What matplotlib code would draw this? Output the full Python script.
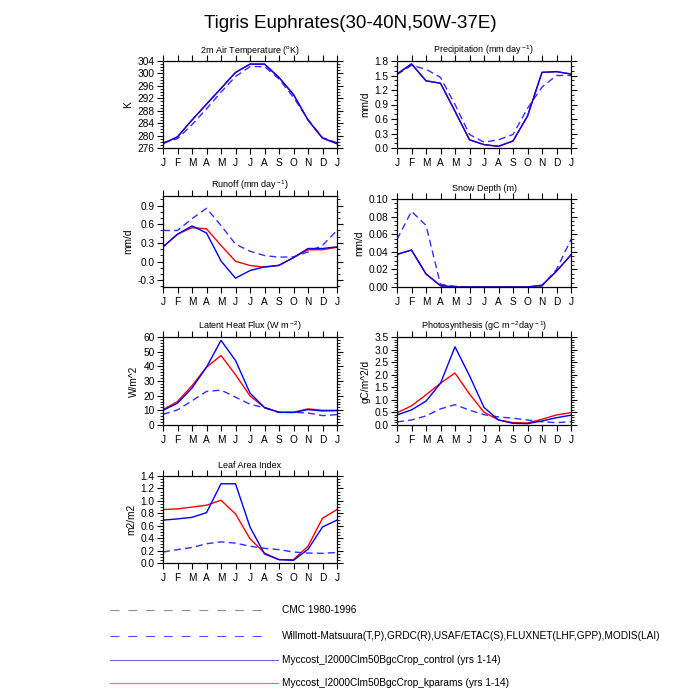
import matplotlib
matplotlib.use("Agg")
import matplotlib.pyplot as plt
from matplotlib.ticker import AutoMinorLocator
import numpy as np

plt.rcParams['font.family'] = ['Liberation Sans', 'DejaVu Sans']
plt.rcParams['mathtext.fontset'] = 'custom'
plt.rcParams['mathtext.rm'] = 'Liberation Sans'
plt.rcParams['mathtext.it'] = 'Liberation Sans'

months = ["J", "F", "M", "A", "M", "J", "J", "A", "S", "O", "N", "D", "J"]

# 2m air temperature (K)
tsa_ctl = [277.4, 279.6, 285.0, 290.1, 295.2, 300.3, 303.0, 303.0, 298.7, 293.2, 285.0, 279.2, 277.4]
tsa_kp = [277.4, 279.6, 285.0, 290.1, 295.2, 300.3, 303.0, 303.0, 298.7, 293.2, 285.0, 279.2, 277.4]
tsa_obs = [277.7, 279.0, 283.5, 288.6, 294.0, 299.0, 302.2, 302.2, 298.2, 292.3, 285.2, 279.3, 277.7]

# precipitation (mm/d)
pr_ctl = [1.53, 1.74, 1.39, 1.34, 0.76, 0.17, 0.07, 0.035, 0.145, 0.66, 1.565, 1.58, 1.53]
pr_kp = [1.53, 1.74, 1.39, 1.34, 0.76, 0.17, 0.07, 0.035, 0.145, 0.66, 1.565, 1.58, 1.53]
pr_obs = [1.52, 1.71, 1.63, 1.46, 0.90, 0.28, 0.12, 0.17, 0.28, 0.82, 1.26, 1.50, 1.50]

# runoff (mm/d)
ro_ctl = [0.236, 0.44, 0.573, 0.46, 0.01, -0.268, -0.145, -0.086, -0.06, 0.064, 0.21, 0.21, 0.236]
ro_kp = [0.236, 0.44, 0.546, 0.525, 0.26, 0.005, -0.064, -0.09, -0.064, 0.064, 0.19, 0.19, 0.23]
ro_obs = [0.50, 0.50, 0.69, 0.857, 0.58, 0.28, 0.166, 0.096, 0.07, 0.075, 0.155, 0.26, 0.50]

# snow depth (m)
sd_ctl = [0.037, 0.042, 0.0148, 0.0015, 0.0, 0.0, 0.0, 0.0, 0.0, 0.0, 0.002, 0.018, 0.0365]
sd_kp = [0.037, 0.042, 0.0148, 0.0015, 0.0, 0.0, 0.0, 0.0, 0.0, 0.0, 0.002, 0.018, 0.0365]
sd_obs = [0.054, 0.086, 0.070, 0.003, 0.0008, 0.0, 0.0, 0.0, 0.0, 0.0, 0.001, 0.020, 0.054]

# latent heat flux (W/m2)
lh_ctl = [10.0, 14.9, 25.2, 39.4, 57.7, 44.0, 21.8, 11.9, 8.7, 8.5, 10.5, 9.6, 9.8]
lh_kp = [10.5, 16.0, 26.8, 39.4, 47.4, 34.3, 19.9, 11.9, 8.7, 8.7, 11.0, 10.0, 10.0]
lh_obs = [7.3, 10.3, 16.5, 22.9, 23.8, 19.0, 14.2, 11.7, 8.5, 8.7, 8.2, 6.4, 7.1]

# photosynthesis (gC/m2/d)
gpp_ctl = [0.40, 0.60, 0.95, 1.66, 3.11, 1.96, 0.70, 0.20, 0.067, 0.053, 0.16, 0.29, 0.39]
gpp_kp = [0.49, 0.76, 1.20, 1.66, 2.07, 1.23, 0.51, 0.20, 0.093, 0.08, 0.23, 0.40, 0.49]
gpp_obs = [0.12, 0.20, 0.36, 0.64, 0.81, 0.59, 0.41, 0.32, 0.27, 0.20, 0.13, 0.093, 0.13]

# leaf area index (m2/m2)
lai_ctl = [0.69, 0.71, 0.735, 0.81, 1.275, 1.275, 0.58, 0.145, 0.054, 0.043, 0.22, 0.58, 0.69]
lai_kp = [0.86, 0.87, 0.90, 0.93, 1.01, 0.79, 0.39, 0.16, 0.054, 0.054, 0.27, 0.72, 0.86]
lai_obs = [0.177, 0.215, 0.25, 0.31, 0.34, 0.32, 0.27, 0.236, 0.215, 0.177, 0.16, 0.155, 0.17]

titles = [r"2m Air Temperature ($^{\rm o}$K)",
          r"Precipitation (mm day$^{\rm -1}$)",
          r"Runoff (mm day$^{\rm -1}$)",
          "Snow Depth (m)",
          r"Latent Heat Flux (W m$^{\rm -2}$)",
          r"Photosynthesis (gC m$^{\rm -2}$day$^{\rm -1}$)",
          "Leaf Area Index"]
ylabels = ["K", "mm/d", "mm/d", "mm/d", "W/m^2", "gC/m^2/d", "m2/m2"]
series = [(tsa_ctl, tsa_kp, tsa_obs), (pr_ctl, pr_kp, pr_obs), (ro_ctl, ro_kp, ro_obs),
          (sd_ctl, sd_kp, sd_obs), (lh_ctl, lh_kp, lh_obs), (gpp_ctl, gpp_kp, gpp_obs),
          (lai_ctl, lai_kp, lai_obs)]
ylims = [(276, 304), (0, 1.8), (-0.41, 1.055), (0, 0.10), (0, 60), (0, 3.5), (0, 1.4)]
ysteps = [4, 0.3, 0.3, 0.02, 10, 0.5, 0.2]
yminor = [4, 3, 3, 4, 5, 5, 4]
yfmt = ["{:.0f}", "{:.1f}", "{:.1f}", "{:.2f}", "{:.0f}", "{:.1f}", "{:.1f}"]

legend_labels = ["CMC 1980-1996",
                 "Willmott-Matsuura(T,P),GRDC(R),USAF/ETAC(S),FLUXNET(LHF,GPP),MODIS(LAI)",
                 "Myccost_I2000Clm50BgcCrop_control (yrs 1-14)",
                 "Myccost_I2000Clm50BgcCrop_kparams (yrs 1-14)"]

W = H = 700.0
fig = plt.figure(figsize=(7, 7), dpi=100)

# panel boxes in pixels (left, top, right, bottom)
boxes = [(163, 61, 337, 148), (397, 61, 571, 148),
         (163, 196, 337, 287), (397, 199, 571, 287),
         (163, 337, 337, 425), (397, 337, 571, 425),
         (163, 476, 337, 563)]

x = np.arange(len(months))
for i, (b, (ctl, kp, obs)) in enumerate(zip(boxes, series)):
    l, t, r, bt = b
    ax = fig.add_axes([l / W, 1 - bt / H, (r - l) / W, (bt - t) / H])
    ax.plot(x, obs, color="#3030ff", lw=1.0, ls=(0, (5, 3)))
    ax.plot(x, kp, color="red", lw=1.0)
    ax.plot(x, ctl, color="blue", lw=1.0)
    ax.set_xlim(0, 12)
    ax.set_ylim(*ylims[i])
    ax.set_xticks(x)
    ax.set_xticklabels(months)
    lo, hi = ylims[i]
    st = ysteps[i]
    start = np.ceil(lo / st - 1e-9) * st
    ticks = np.arange(start, hi + 1e-9, st)
    ax.set_yticks(ticks)
    ax.set_yticklabels([yfmt[i].format(v + 0.0) for v in ticks])
    ax.yaxis.set_minor_locator(AutoMinorLocator(yminor[i]))
    ax.tick_params(axis="both", which="major", direction="out", length=4.5, width=0.8,
                   labelsize=7.3, top=True, right=True, pad=1.5)
    ax.tick_params(axis="y", which="minor", direction="out", length=2.2, width=0.6,
                   right=True, left=True)
    ax.tick_params(axis="x", which="major", pad=2.5)
    for s in ax.spines.values():
        s.set_linewidth(0.9)
    ax.set_title(titles[i], fontsize=6.5, pad=5.5)
    ax.set_ylabel(ylabels[i], fontsize=7.3, labelpad=3)

fig.text(0.5, 1 - 23 / H, "Tigris Euphrates(30-40N,50W-37E)", ha="center", va="center",
         fontsize=13.5)

# legend
leg_y = [610, 636, 660, 683]
leg_styles = [dict(color="#909090", ls=(0, (8, 8)), lw=0.8),
              dict(color="#5050ff", ls=(0, (8, 8)), lw=0.8),
              dict(color="#6868e0", ls="-", lw=0.8),
              dict(color="#ff7070", ls="-", lw=0.8)]
leg_x1 = [265, 265, 278, 278]
for yy, lab, sty, x1 in zip(leg_y, legend_labels, leg_styles, leg_x1):
    fig.add_artist(plt.Line2D([110 / W, x1 / W], [1 - yy / H, 1 - yy / H], **sty))
    fig.text(282 / W, 1 - yy / H, lab, ha="left", va="center", fontsize=7.3)

fig.savefig("out.png", dpi=100)
